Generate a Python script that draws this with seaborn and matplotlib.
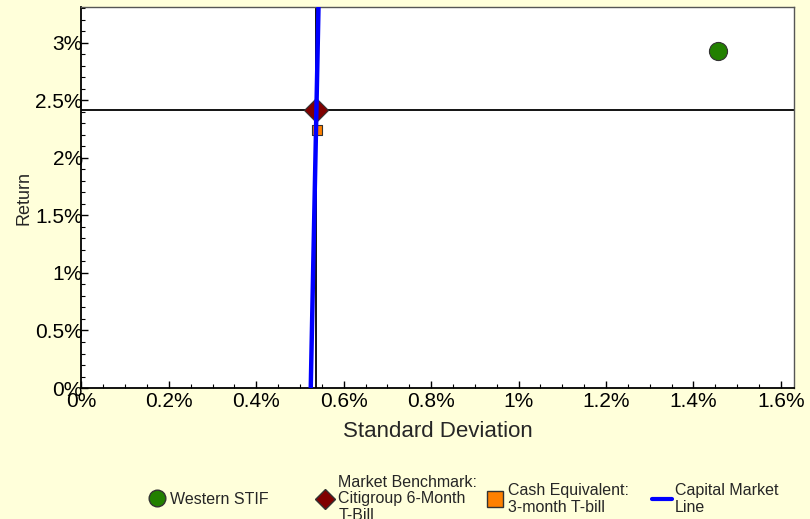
import numpy as np
import pandas as pd
import matplotlib
matplotlib.use("Agg")
import matplotlib.pyplot as plt
import matplotlib.ticker as mticker
from matplotlib.lines import Line2D
import seaborn as sns

# --- data (percent) ---
names = ["Western STIF", "Market Benchmark:\nCitigroup 6-Month\nT-Bill", "Cash Equivalent:\n3-month T-bill"]
std_dev = [1.457, 0.536, 0.538]
returns = [2.93, 2.42, 2.24]
cml_std = [0.5245, 0.5425]
cml_ret = [0.0, 3.36]
cml_name = "Capital Market\nLine"

BG = "#FFFFDA"
colors = ["#228000", "#800000", "#FF8000"]
markers = ["o", "D", "s"]
sizes = [170, 150, 45]

sns.set_style("white")
plt.rcParams["font.family"] = ["Liberation Sans", "DejaVu Sans"]

fig = plt.figure(figsize=(8.1, 5.19), dpi=100, facecolor=BG)
ax = fig.add_axes([0.1006, 0.2524, 0.8796, 0.7335])
ax.set_facecolor("white")

# market benchmark crosshair
ax.axhline(returns[1], color="black", lw=1.3, zorder=1)
ax.axvline(std_dev[1], color="black", lw=1.3, zorder=1)

df = pd.DataFrame({"name": names, "sd": std_dev, "ret": returns})
for i, row in df.iterrows():
    sns.scatterplot(x=[row["sd"]], y=[row["ret"]], ax=ax, marker=markers[i], s=sizes[i],
                    color=colors[i], edgecolor="#333333", linewidth=0.8, zorder=3 if i != 1 else 2,
                    legend=False)

cml = pd.DataFrame({"sd": cml_std, "ret": cml_ret})
sns.lineplot(data=cml, x="sd", y="ret", ax=ax, color="#0000FF", lw=3.2, zorder=4)

ax.set_xlim(0, 1.63)
ax.set_ylim(0, 3.31)
pct = mticker.FuncFormatter(lambda v, p: f"{v:g}%")
ax.xaxis.set_major_locator(mticker.MultipleLocator(0.2))
ax.xaxis.set_minor_locator(mticker.MultipleLocator(0.05))
ax.yaxis.set_major_locator(mticker.MultipleLocator(0.5))
ax.yaxis.set_minor_locator(mticker.MultipleLocator(0.1))
ax.xaxis.set_major_formatter(pct)
ax.yaxis.set_major_formatter(pct)
ax.tick_params(which="both", direction="in", colors="black", labelsize=15)
ax.tick_params(which="major", length=5, width=1)
ax.tick_params(which="minor", length=3, width=0.8)
ax.tick_params(axis="y", which="both", pad=-1, left=True)
ax.tick_params(axis="x", which="both", pad=3, bottom=True)

for s in ["left", "bottom"]:
    ax.spines[s].set_color("black")
    ax.spines[s].set_linewidth(1.3)
for s in ["top", "right"]:
    ax.spines[s].set_color("#555555")
    ax.spines[s].set_linewidth(1.0)

ax.set_xlabel("Standard Deviation", fontsize=16, labelpad=7)
ax.set_ylabel("Return", fontsize=13, labelpad=2)

# legend: four separate entries at fixed positions
handles = [
    Line2D([], [], ls="", marker="o", ms=12, mfc=colors[0], mec="#333333"),
    Line2D([], [], ls="", marker="D", ms=10, mfc=colors[1], mec="#333333"),
    Line2D([], [], ls="", marker="s", ms=12, mfc=colors[2], mec="#333333"),
    Line2D([], [], color="#0000FF", lw=3),
]
labels = [names[0], names[1], names[2], cml_name]
lefts = [147, 315, 485, 652]
for h, lab, x0 in zip(handles, labels, lefts):
    leg = fig.legend([h], [lab], loc="center left", bbox_to_anchor=(x0 / 810, 1 - 499 / 519),
                     frameon=False, fontsize=11.5, handlelength=1.25, handletextpad=0.2,
                     borderpad=0, borderaxespad=0)
    for t in leg.get_texts():
        t.set_linespacing(1.15)

fig.savefig("out.png", dpi=100, facecolor=BG)
